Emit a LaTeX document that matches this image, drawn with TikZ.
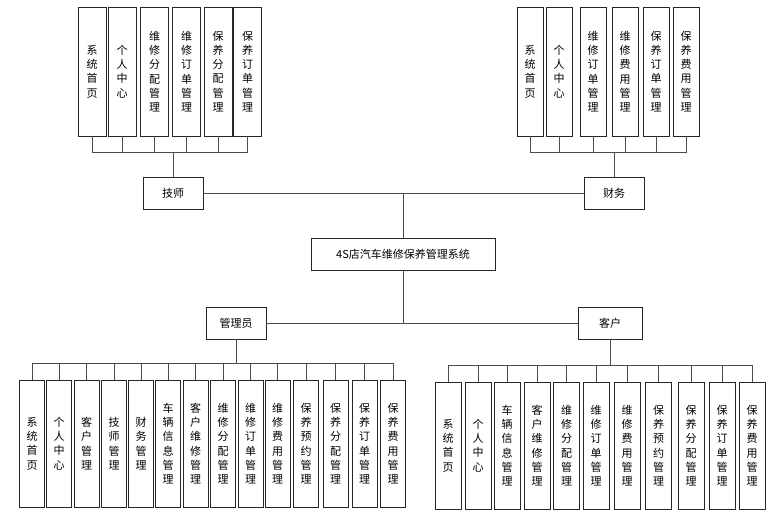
\documentclass[tikz,border=0pt]{standalone}
\usepackage{fontspec}
\setmainfont{Noto Sans CJK SC}
\usetikzlibrary{positioning}

\begin{document}
\begin{tikzpicture}[
        x=1pt, y=-1pt,
        role/.style={rectangle, draw=black!85, line width=0.8pt, fill=white,
                     minimum width=60pt, minimum height=32pt, inner sep=1pt,
                     font=\fontsize{11}{14}\selectfont},
        func/.style={rectangle, draw=black!85, line width=0.8pt, fill=white,
                     minimum width=26pt, minimum height=127pt, inner sep=0pt,
                     align=center, font=\fontsize{11}{14.3}\selectfont},
        link/.style={draw=black!70, line width=0.8pt},
    ]
        \fill[white] (0,0) rectangle (784,522);

        \node[role, minimum width=184pt] (sys) at (403,254) {4S店汽车维修保养管理系统};
        \node[role] (tech) at (173,193) {技师};
        \node[role] (fin)  at (614,193) {财务};
        \node[role] (adm)  at (236,323) {管理员};
        \node[role, minimum width=64pt] (cust) at (610,323) {客户};

        \draw[link] (tech.east) -- (fin.west);
        \draw[link] (sys.north) -- (sys.north |- tech.east);
        \draw[link] (adm.east) -- (cust.west);
        \draw[link] (sys.south) -- (sys.south |- adm.east);

        \foreach \x/\t [count=\i] in {92/{系\\统\\首\\页}, 122/{个\\人\\中\\心},
                154.5/{维\\修\\分\\配\\管\\理}, 186.5/{维\\修\\订\\单\\管\\理},
                218/{保\\养\\分\\配\\管\\理}, 247.5/{保\\养\\订\\单\\管\\理}}
            \node[func, minimum width=28pt, minimum height=129pt] (t\i) at (\x,71.5) {\t};
        \coordinate (tbus) at (173,152);
        \foreach \i in {1,...,6}
            \draw[link] (t\i.south) |- (tbus);
        \draw[link] (tbus) -- (tech.north);

        \foreach \x/\t [count=\i] in {530/{系\\统\\首\\页}, 559/{个\\人\\中\\心},
                593/{维\\修\\订\\单\\管\\理}, 625/{维\\修\\费\\用\\管\\理},
                656/{保\\养\\订\\单\\管\\理}, 686/{保\\养\\费\\用\\管\\理}}
            \node[func, minimum height=129pt] (f\i) at (\x,71.5) {\t};
        \coordinate (fbus) at (614,152);
        \foreach \i in {1,...,6}
            \draw[link] (f\i.south) |- (fbus);
        \draw[link] (fbus) -- (fin.north);

        \foreach \x/\t [count=\i] in {32/{系\\统\\首\\页}, 59/{个\\人\\中\\心},
                86.5/{客\\户\\管\\理}, 114/{技\\师\\管\\理}, 141/{财\\务\\管\\理},
                168/{车\\辆\\信\\息\\管\\理}, 195.5/{客\\户\\维\\修\\管\\理},
                223/{维\\修\\分\\配\\管\\理}, 250.5/{维\\修\\订\\单\\管\\理},
                277.5/{维\\修\\费\\用\\管\\理}, 306/{保\\养\\预\\约\\管\\理},
                335.5/{保\\养\\分\\配\\管\\理}, 364.5/{保\\养\\订\\单\\管\\理},
                393/{保\\养\\费\\用\\管\\理}}
            \node[func, minimum width=25pt] (a\i) at (\x,443.5) {\t};
        \coordinate (abus) at (236,363);
        \draw[link] (adm.south) -- (abus);
        \foreach \i in {1,...,14}
            \draw[link] (abus) -| (a\i.north);

        \foreach \x/\t [count=\i] in {448/{系\\统\\首\\页}, 478/{个\\人\\中\\心},
                507/{车\\辆\\信\\息\\管\\理}, 537/{客\\户\\维\\修\\管\\理},
                566.5/{维\\修\\分\\配\\管\\理}, 596/{维\\修\\订\\单\\管\\理},
                627/{维\\修\\费\\用\\管\\理}, 658.5/{保\\养\\预\\约\\管\\理},
                691/{保\\养\\分\\配\\管\\理}, 722/{保\\养\\订\\单\\管\\理},
                752/{保\\养\\费\\用\\管\\理}}
            \node[func] (c\i) at (\x,445.5) {\t};
        \coordinate (cbus) at (610,365);
        \draw[link] (cust.south) -- (cbus);
        \foreach \i in {1,...,11}
            \draw[link] (cbus) -| (c\i.north);
    \end{tikzpicture}
\end{document}
